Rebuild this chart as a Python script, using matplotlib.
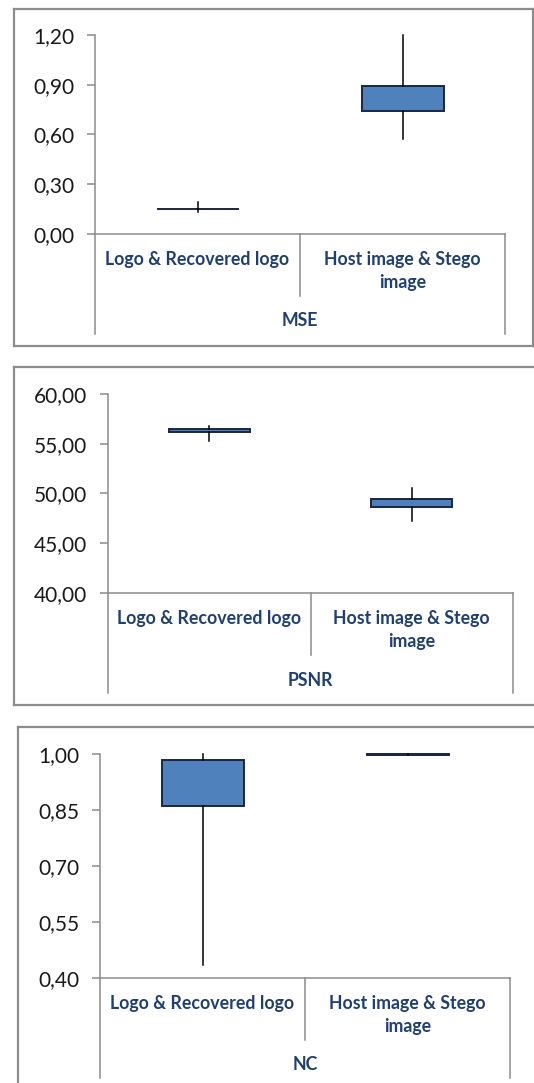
import numpy as np
import matplotlib.pyplot as plt
from matplotlib.ticker import FuncFormatter
import matplotlib.transforms as mtrans

plt.rcParams['font.family'] = ['Lato', 'DejaVu Sans']

# data
categories = ["Logo & Recovered logo", "Host image & Stego\nimage"]
metrics = ["MSE", "PSNR", "NC"]

mse_q1 = [0.148, 0.74]
mse_q3 = [0.153, 0.89]
mse_lo = [0.133, 0.57]
mse_hi = [0.193, 1.20]

psnr_q1 = [56.21, 48.65]
psnr_q3 = [56.52, 49.48]
psnr_lo = [55.25, 47.20]
psnr_hi = [56.75, 50.55]

nc_q1 = [0.860, 0.997]
nc_q3 = [0.984, 1.000]
nc_lo = [0.436, 1.000]
nc_hi = [1.000, 1.000]

mse_ticks = [0.0, 0.3, 0.6, 0.9, 1.2]
psnr_ticks = [40, 45, 50, 55, 60]
nc_ticks = [0.40, 0.55, 0.70, 0.85, 1.00]

W, H = 534, 1083
GRAY = '#8c8c8c'
BLUE_TXT = '#1f3f73'

fig = plt.figure(figsize=(W / 100, H / 100), dpi=100)


def comma(v, pos):
    return f"{v:.2f}".replace('.', ',')


def panel(axbox, frame, q1, q3, lo, hi, ticks, name, lines_down, div_down):
    # outer frame of the chart (an empty axes, only the spines)
    fx0, fx1, fy0, fy1 = frame
    fr = fig.add_axes([fx0 / W, 1 - fy1 / H, (fx1 - fx0) / W, (fy1 - fy0) / H], zorder=0)
    fr.set_xticks([])
    fr.set_yticks([])
    fr.patch.set_facecolor('none')
    for s in fr.spines.values():
        s.set_color(GRAY)
        s.set_linewidth(1.6)

    l, r, t, b = axbox
    ax = fig.add_axes([l / W, 1 - b / H, (r - l) / W, (b - t) / H], zorder=1)
    ax.patch.set_facecolor('none')
    hpx = b - t

    stats = []
    for i in range(len(categories)):
        stats.append(dict(med=(q1[i] + q3[i]) / 2, q1=q1[i], q3=q3[i],
                          whislo=lo[i], whishi=hi[i]))
    art = ax.bxp(stats, positions=[1, 2], widths=0.4, showfliers=False,
                 showcaps=False, patch_artist=True,
                 boxprops=dict(facecolor='#4f81bd', edgecolor='#1a2640', linewidth=1.4),
                 whiskerprops=dict(color='black', linewidth=1.1),
                 medianprops=dict(visible=False))
    for k in art:
        for a in art[k]:
            a.set_clip_on(False)

    ax.set_xlim(0.5, 2.5)
    ax.set_ylim(ticks[0], ticks[-1])
    ax.set_yticks(ticks)
    ax.yaxis.set_major_formatter(FuncFormatter(comma))
    ax.set_xticks([])
    ax.tick_params(axis='y', length=6, width=1.1, color=GRAY, pad=9,
                   labelsize=15, labelcolor='#1a1a1a')
    for s in ['top', 'right']:
        ax.spines[s].set_visible(False)
    for s in ['left', 'bottom']:
        ax.spines[s].set_color(GRAY)
        ax.spines[s].set_linewidth(1.1)

    # category axis lines below the plot
    for x, d in [(0, lines_down), (0.5, div_down), (1, lines_down)]:
        ax.plot([x, x], [0, -d / hpx], transform=ax.transAxes, color=GRAY,
                linewidth=1.1, clip_on=False)

    tr = mtrans.offset_copy(mtrans.blended_transform_factory(ax.transData, ax.transAxes),
                            fig=fig, y=-17, units='dots')
    for i, c in enumerate(categories):
        ax.text(i + 1, 0, c, transform=tr, ha='center', va='top', fontsize=12.8,
                fontweight='bold', color=BLUE_TXT, linespacing=1.4)
    tr2 = mtrans.offset_copy(ax.transAxes, fig=fig, y=-87, units='dots')
    ax.text(0.5, 0, name, transform=tr2, ha='center', va='center', fontsize=12.8,
            fontweight='bold', color=BLUE_TXT)
    return ax


# axes box: left, right, top, bottom ; frame: left, right, top, bottom (pixels)
panel((95, 505, 35, 234), (14, 533, 9, 346), mse_q1, mse_q3, mse_lo, mse_hi,
      mse_ticks, metrics[0], 100, 62)
panel((108, 513, 394, 593), (14, 545, 367, 705), psnr_q1, psnr_q3, psnr_lo, psnr_hi,
      psnr_ticks, metrics[1], 100, 62)
panel((100, 510, 754, 978), (18, 545, 727, 1095), nc_q1, nc_q3, nc_lo, nc_hi,
      nc_ticks, metrics[2], 100, 62)

fig.savefig('out.png', dpi=100)
